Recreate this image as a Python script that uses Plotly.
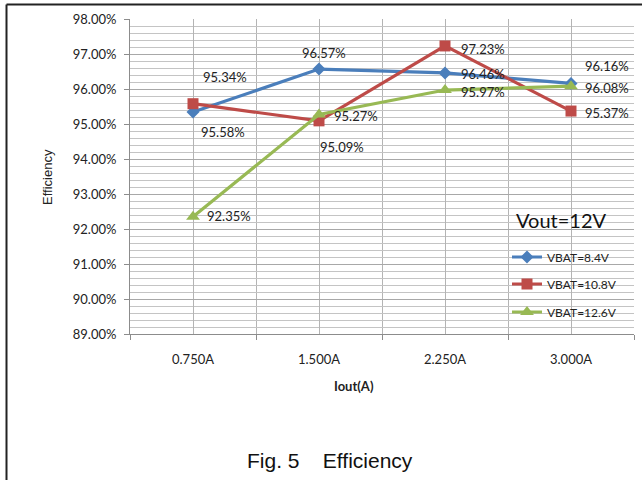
import plotly.graph_objects as go

categories = ["0.750A", "1.500A", "2.250A", "3.000A"]
series_names = ["VBAT=8.4V", "VBAT=10.8V", "VBAT=12.6V"]
vbat_84 = [95.34, 96.57, 96.46, 96.16]
vbat_108 = [95.58, 95.09, 97.23, 95.37]
vbat_126 = [92.35, 95.27, 95.97, 96.08]
y_ticks = [89, 90, 91, 92, 93, 94, 95, 96, 97, 98]

series_values = [vbat_84, vbat_108, vbat_126]
colors = ["#4a7ebb", "#be4b48", "#98b954"]
symbols = ["diamond", "square", "triangle-up"]
msizes = [10, 11, 12]
# label offsets in screen pixels (dx, dy down)
label_offsets = [
    [(32, -35), (5, -16), (38, 1), (36, -17)],
    [(30, 28), (23, 26), (38, 3), (36, 2)],
    [(36, -1), (37, 1), (38, 2), (36, 2)],
]

xpos = list(range(1, len(categories) + 1))
FONT = "Lato"

fig = go.Figure()
legend_ids = ["legend", "legend2", "legend3"]
for name, vals, c, s, ms, lg in zip(series_names, series_values, colors, symbols, msizes, legend_ids):
    fig.add_trace(go.Scatter(
        x=xpos, y=vals, name=name, mode="lines+markers",
        line=dict(color=c, width=3.2),
        marker=dict(symbol=s, size=ms, color=c),
        legend=lg,
    ))

annotations = []
for vals, offs in zip(series_values, label_offsets):
    for xi, v, (dx, dy) in zip(xpos, vals, offs):
        annotations.append(dict(
            x=xi, y=v, xref="x", yref="y", text=f"{v:.2f}%", showarrow=False,
            xanchor="center", yanchor="middle",
            xshift=dx, yshift=-dy, font=dict(family=FONT, size=13, color="#222"),
        ))

L, R, T, B = 130, 8, 19, 146
W, H = 642, 480
pw, ph = W - L - R, H - T - B

def px(x):
    return (x - L) / pw

def py(y):
    return (H - B - y) / ph

def pann(x, y, text, **kw):
    return dict(x=px(x), y=py(y), xref="paper", yref="paper", text=text, showarrow=False,
                xanchor="center", yanchor="middle", **kw)

annotations += [
    pann(561, 220, "Vout=12V", font=dict(family=FONT, size=20, color="#111")),
    pann(47, 177, "Efficiency", textangle=-90,
         font=dict(family="Liberation Sans", size=13, color="#222")),
    pann(354, 386, "<b>Iout(A)</b>", font=dict(family=FONT, size=13, color="#222")),
    pann(330, 460, "Fig. 5&nbsp;&nbsp;&nbsp;&nbsp;Efficiency",
         font=dict(family="Liberation Sans", size=21, color="#111")),
]

shapes = [
    dict(type="line", xref="paper", yref="paper", x0=px(6.5), x1=px(645), y0=py(4.5), y1=py(4.5),
         line=dict(color="#222", width=2)),
    dict(type="line", xref="paper", yref="paper", x0=px(6.5), x1=px(6.5), y0=py(4.5), y1=py(485),
         line=dict(color="#222", width=2)),
]

legend_rows = [257, 284, 312]
legend_common = dict(xanchor="left", yanchor="middle", bgcolor="rgba(0,0,0,0)",
                     font=dict(family=FONT, size=12, color="#222"), borderwidth=0)
layout_legends = {}
for lg, row in zip(legend_ids, legend_rows):
    layout_legends[lg] = dict(x=px(507), y=py(row), **legend_common)

fig.update_layout(
    width=W, height=H,
    margin=dict(l=L, r=R, t=T, b=B),
    paper_bgcolor="white", plot_bgcolor="white",
    showlegend=True,
    annotations=annotations, shapes=shapes,
    xaxis=dict(
        range=[0.5, 4.5], tickmode="array", tickvals=xpos, ticktext=categories,
        ticks="", showgrid=True, gridcolor="#b4b4b4", gridwidth=1,
        showline=True, linecolor="#8c8c8c", linewidth=1,
        minor=dict(tickmode="array", tickvals=[0.5, 1.5, 2.5, 3.5, 4.5], ticks="outside",
                   ticklen=5, tickcolor="#8c8c8c", showgrid=True, gridcolor="#b4b4b4", gridwidth=1),
        tickfont=dict(family=FONT, size=13, color="#222"), ticklabelstandoff=13,
        zeroline=False, fixedrange=True,
    ),
    yaxis=dict(
        range=[89, 98], tickmode="array", tickvals=y_ticks,
        ticktext=[f"{v:.2f}%" for v in y_ticks],
        ticks="outside", ticklen=5, tickcolor="#8c8c8c",
        showgrid=True, gridcolor="#a8a8a8", gridwidth=1,
        showline=True, linecolor="#8c8c8c", linewidth=1,
        minor=dict(dtick=0.2, tick0=89, showgrid=True, gridcolor="#c4c4c4", gridwidth=1, ticks=""),
        tickfont=dict(family=FONT, size=13, color="#222"), ticklabelstandoff=5,
        zeroline=False, fixedrange=True,
    ),
    **layout_legends,
)

fig.write_html("out.html", config={"displayModeBar": False},
               post_script="document.body.style.margin='0';")
